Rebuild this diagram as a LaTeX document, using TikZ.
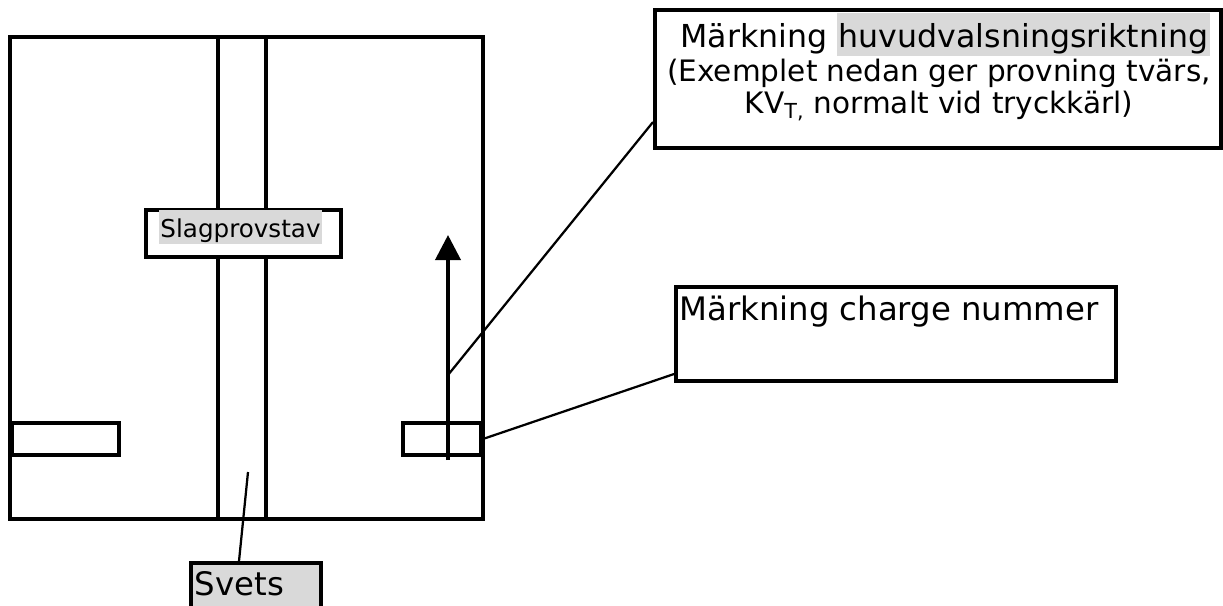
\documentclass[tikz,border=0pt]{standalone}
\usepackage{fontspec}
\setmainfont{DejaVu Sans}
\usetikzlibrary{arrows.meta}
\definecolor{hlgray}{HTML}{D9D9D9}
\newcommand{\hlmark}[1]{{\setlength{\fboxsep}{1pt}\colorbox{hlgray}{\rule[-0.22em]{0pt}{1.26em}#1}}}

\begin{document}
\begin{tikzpicture}[
        x=0.025cm, y=-0.025cm,
        thickline/.style={line width=2.7pt},
        thinline/.style={line width=1.6pt},
        box/.style={draw, line width=2.7pt, fill=white, inner sep=0pt},
        every node/.style={
            inner sep=0pt
        }
    ]
        \useasboundingbox (0,0) rectangle (1223,605);

        % Plate
        \draw[thickline] (10,37) rectangle (483,519);

        % Weld
        \draw[thickline] (218,37) -- (218,519);
        \draw[thickline] (266,37) -- (266,519);
        \coordinate (weldpt) at (248,472);

        % Impact test bar
        \node[box, minimum width=4.875cm, minimum height=1.175cm] (slag) at (243.5,233.5) {};
        \node[anchor=base, font=\fontsize{17.5}{21}\selectfont] (slagtext) at (240.5,237) {\hlmark{Slagprovstav}};

        % Tabs
        \node[box, minimum width=2.675cm, minimum height=0.8cm] (lefttab) at (65.5,439) {};
        \node[box, minimum width=1.95cm, minimum height=0.8cm] (righttab) at (442,439) {};

        % Rolling direction
        \coordinate (arrowstart) at (448,460);
        \coordinate (arrowmid) at (448,375);
        \coordinate (arrowend) at (448,235);
        \draw[thickline, -{Triangle[width=0.625cm, length=0.625cm]}] (arrowstart) -- (arrowend);

        % Marking box, rolling direction
        \node[box, minimum width=14.15cm, minimum height=3.45cm] (topbox) at (938,79) {};
        \node[anchor=base, font=\fontsize{22.5}{27}\selectfont] (title1) at (945,47.5) {Märkning \hlmark{huvudvalsningsriktning}};
        \node[anchor=base, font=\fontsize{21}{25}\selectfont] (title2) at (939,81) {(Exemplet nedan ger provning tvärs,};
        \node[anchor=base, font=\fontsize{21}{25}\selectfont] (title3) at (939,113) {KV\textsubscript{T,} normalt vid tryckkärl)};

        % Marking box, charge number
        \node[box, minimum width=11cm, minimum height=2.35cm] (chargebox) at (896,334) {};
        \node[anchor=base west, font=\fontsize{23}{27}\selectfont] (chargetext) at (679,320) {Märkning charge nummer};

        % Weld label
        \node[box, fill=hlgray, anchor=north west, inner xsep=0.1cm, text width=3.05cm, align=left,
              text height=0.825cm, text depth=0.6cm, font=\fontsize{23}{27}\selectfont] (svets) at (189,561) {Svets};

        % Leaders
        \draw[thinline] (arrowmid) -- ([yshift=-1.075cm]topbox.west);
        \draw[thinline] (righttab.east) -- ([yshift=-1cm]chargebox.west);
        \draw[thinline] (weldpt) -- ([xshift=1.25cm]svets.north west);
    \end{tikzpicture}
\end{document}
